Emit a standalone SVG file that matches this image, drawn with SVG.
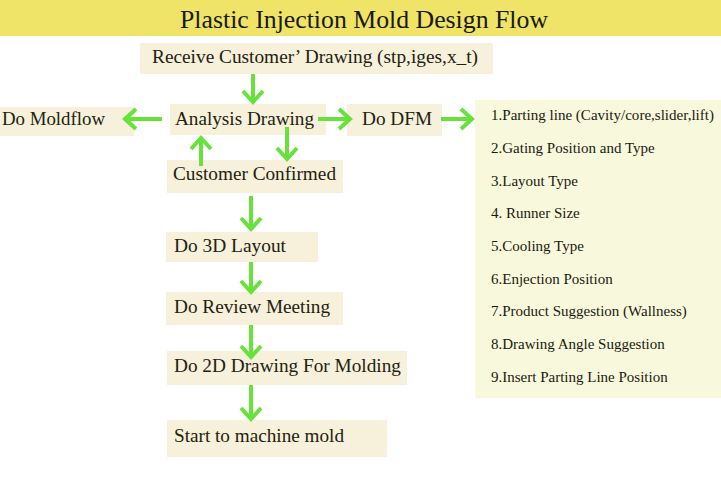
<svg xmlns="http://www.w3.org/2000/svg" width="721" height="500" viewBox="0 0 721 500">
<defs>
<style>
.box{fill:#F7F0DA}
.list{fill:#F8F8DC}
.t{font-family:"Liberation Serif","Times New Roman",serif;font-size:18px;fill:#222211}
.li{font-family:"Liberation Serif","Times New Roman",serif;font-size:15px;fill:#1a1a10}
.ttl{font-family:"Liberation Serif","Times New Roman",serif;font-size:26px;fill:#1a1a10}
.ar{fill:none;stroke:#66E23A;stroke-width:4;stroke-linejoin:miter}
</style>
</defs>
<rect width="721" height="500" fill="#FFFFFF"/>
<g id="title">
<rect x="0" y="0" width="721" height="36" fill="#EFE467"/>
<text class="ttl" x="364" y="28" text-anchor="middle" textLength="368" lengthAdjust="spacingAndGlyphs">Plastic Injection Mold Design Flow</text>
</g>
<g id="receive">
<rect class="box" x="140" y="43" width="353" height="31"/>
<text class="t" x="152" y="63" textLength="326" lengthAdjust="spacingAndGlyphs">Receive Customer’ Drawing (stp,iges,x_t)</text>
</g>
<g id="analysis">
<rect class="box" x="170" y="104" width="156" height="31"/>
<text class="t" x="175" y="125" textLength="139" lengthAdjust="spacingAndGlyphs">Analysis Drawing</text>
</g>
<g id="moldflow">
<rect class="box" x="0" y="107" width="134" height="29"/>
<text class="t" x="2" y="125" textLength="103" lengthAdjust="spacingAndGlyphs">Do Moldflow</text>
</g>
<g id="dfm">
<rect class="box" x="347" y="104" width="95" height="32"/>
<text class="t" x="362" y="125" textLength="70" lengthAdjust="spacingAndGlyphs">Do DFM</text>
</g>
<g id="dfm-list">
<rect class="list" x="475" y="100" width="246" height="298"/>
<text class="li" x="491" y="120" textLength="223" lengthAdjust="spacingAndGlyphs">1.Parting line (Cavity/core,slider,lift)</text>
<text class="li" x="491" y="153">2.Gating Position and Type</text>
<text class="li" x="491" y="186">3.Layout  Type</text>
<text class="li" x="491" y="218">4. Runner Size</text>
<text class="li" x="491" y="251">5.Cooling Type</text>
<text class="li" x="491" y="284">6.Enjection Position</text>
<text class="li" x="491" y="316">7.Product Suggestion (Wallness)</text>
<text class="li" x="491" y="349">8.Drawing Angle Suggestion</text>
<text class="li" x="491" y="382">9.Insert Parting Line Position</text>
</g>
<g id="confirmed">
<rect class="box" x="167" y="160" width="176" height="33"/>
<text class="t" x="173" y="180" textLength="163" lengthAdjust="spacingAndGlyphs">Customer Confirmed</text>
</g>
<g id="layout3d">
<rect class="box" x="166" y="232" width="152" height="30"/>
<text class="t" x="174" y="252" textLength="112" lengthAdjust="spacingAndGlyphs">Do 3D Layout</text>
</g>
<g id="review">
<rect class="box" x="166" y="292" width="177" height="33"/>
<text class="t" x="174" y="313" textLength="156" lengthAdjust="spacingAndGlyphs">Do Review Meeting</text>
</g>
<g id="drawing2d">
<rect class="box" x="167" y="351" width="240" height="34"/>
<text class="t" x="174" y="372" textLength="227" lengthAdjust="spacingAndGlyphs">Do 2D Drawing For Molding</text>
</g>
<g id="machine">
<rect class="box" x="167" y="420" width="220" height="37"/>
<text class="t" x="174" y="442" textLength="170" lengthAdjust="spacingAndGlyphs">Start to machine mold</text>
</g>
<g id="connectors">
<path class="ar" d="M253 74V102M243 91L253 102L263 91"/>
<path class="ar" d="M162 119H125M136 109L125 119L136 129"/>
<path class="ar" d="M318 119H350M339 109L350 119L339 129"/>
<path class="ar" d="M441 119H472M461 109L472 119L461 129"/>
<path class="ar" d="M201 166V138M191 149L201 138L211 149"/>
<path class="ar" d="M287 127V159M277 148L287 159L297 148"/>
<path class="ar" d="M251 196V229M241 218L251 229L261 218"/>
<path class="ar" d="M251 262V292M241 281L251 292L261 281"/>
<path class="ar" d="M251 325V357M241 346L251 357L261 346"/>
<path class="ar" d="M251 385V419M241 408L251 419L261 408"/>
</g>
</svg>
